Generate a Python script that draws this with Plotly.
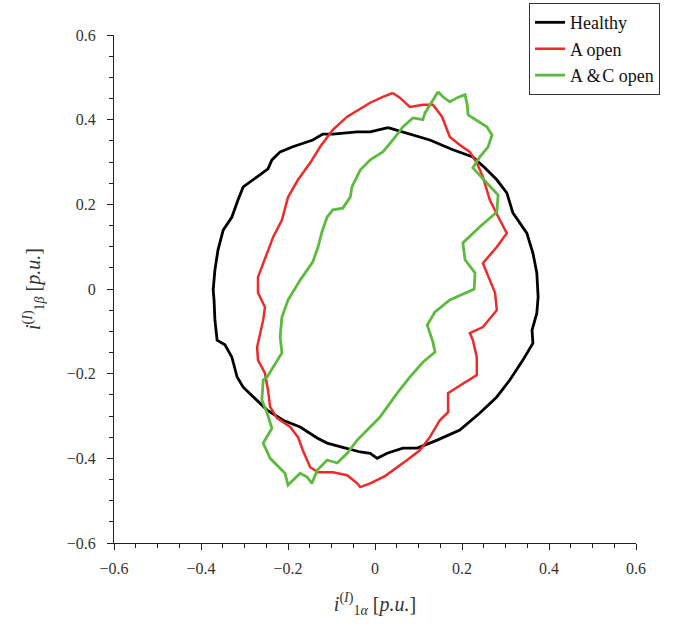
import plotly.graph_objects as go

# Healthy (black) trajectory, one cycle
healthy_x = [0.030, 0.011, -0.011, -0.041, -0.097, -0.120, -0.143, -0.189, -0.218, -0.237, -0.246, -0.271,
             -0.303, -0.315, -0.329, -0.349, -0.361, -0.368, -0.372, -0.370, -0.368, -0.363, -0.345, -0.329,
             -0.317, -0.303, -0.280, -0.248, -0.211, -0.172, -0.133, -0.110, -0.074, -0.034, -0.011, 0.005,
             0.028, 0.064, 0.097, 0.143, 0.195, 0.241, 0.280, 0.310, 0.340, 0.363, 0.361, 0.372, 0.375,
             0.372, 0.363, 0.349, 0.317, 0.303, 0.280, 0.253, 0.225, 0.179, 0.126, 0.064, 0.030]
healthy_y = [0.381, 0.376, 0.371, 0.371, 0.366, 0.366, 0.352, 0.336, 0.324, 0.305, 0.284, 0.265,
             0.241, 0.210, 0.170, 0.139, 0.092, 0.045, -0.002, -0.026, -0.073, -0.121, -0.132, -0.161,
             -0.208, -0.232, -0.255, -0.286, -0.310, -0.326, -0.352, -0.364, -0.374, -0.385, -0.388, -0.400,
             -0.388, -0.376, -0.376, -0.357, -0.333, -0.293, -0.255, -0.215, -0.168, -0.128, -0.097, -0.057, -0.019,
             0.038, 0.085, 0.132, 0.180, 0.227, 0.258, 0.286, 0.312, 0.329, 0.352, 0.371, 0.381]

# A open (red)
a_open_x = [0.041, 0.018, -0.011, -0.028, -0.064, -0.097, -0.126, -0.149, -0.177, -0.200, -0.214, -0.234,
            -0.253, -0.269, -0.269, -0.253, -0.257, -0.271, -0.269, -0.253, -0.246, -0.241, -0.225, -0.195,
            -0.177, -0.166, -0.149, -0.131, -0.097, -0.064, -0.041, -0.034, -0.011, 0.023, 0.074, 0.103,
            0.126, 0.149, 0.168, 0.168, 0.189, 0.234, 0.234, 0.225, 0.218, 0.248, 0.280, 0.276, 0.264,
            0.248, 0.280, 0.303, 0.287, 0.264, 0.248, 0.234, 0.218, 0.195, 0.172, 0.154, 0.133, 0.110,
            0.080, 0.057, 0.041]
a_open_y = [0.463, 0.454, 0.440, 0.430, 0.407, 0.376, 0.336, 0.298, 0.258, 0.217, 0.163, 0.123,
            0.069, 0.028, -0.009, -0.043, -0.073, -0.137, -0.168, -0.199, -0.239, -0.279, -0.305, -0.326,
            -0.350, -0.381, -0.421, -0.433, -0.433, -0.440, -0.459, -0.468, -0.459, -0.442, -0.404, -0.381,
            -0.350, -0.310, -0.291, -0.246, -0.232, -0.203, -0.161, -0.121, -0.104, -0.090, -0.050, -0.009, 0.021,
            0.061, 0.099, 0.132, 0.163, 0.210, 0.265, 0.298, 0.324, 0.340, 0.359, 0.407, 0.435, 0.435,
            0.430, 0.452, 0.463]

# A&C open (green)
ac_open_x = [0.145, 0.126, 0.115, 0.110, 0.087, 0.064, 0.041, 0.018, -0.011, -0.034, -0.053, -0.057,
             -0.074, -0.097, -0.110, -0.122, -0.131, -0.143, -0.172, -0.200, -0.214, -0.218, -0.214, -0.248,
             -0.257, -0.260, -0.248, -0.237, -0.257, -0.241, -0.207, -0.200, -0.189, -0.172, -0.156, -0.145,
             -0.133, -0.110, -0.087, -0.064, -0.041, -0.018, 0.011, 0.051, 0.080, 0.110, 0.138, 0.133,
             0.120, 0.138, 0.172, 0.228, 0.230, 0.207, 0.202, 0.241, 0.280, 0.283, 0.257, 0.225, 0.241,
             0.260, 0.269, 0.257, 0.214, 0.212, 0.207, 0.189, 0.172, 0.156, 0.145]
ac_open_y = [0.466, 0.435, 0.416, 0.400, 0.404, 0.383, 0.352, 0.324, 0.305, 0.281, 0.241, 0.217,
             0.191, 0.187, 0.170, 0.135, 0.099, 0.064, 0.021, -0.026, -0.066, -0.113, -0.151, -0.208,
             -0.215, -0.262, -0.293, -0.329, -0.364, -0.400, -0.435, -0.463, -0.452, -0.435, -0.444, -0.459,
             -0.428, -0.404, -0.411, -0.388, -0.357, -0.333, -0.303, -0.246, -0.208, -0.173, -0.149, -0.125,
             -0.085, -0.054, -0.026, 0.000, 0.038, 0.069, 0.109, 0.147, 0.182, 0.222, 0.251, 0.286, 0.312,
             0.336, 0.364, 0.383, 0.411, 0.435, 0.459, 0.452, 0.442, 0.454, 0.466]

tick_vals = [-0.6, -0.4, -0.2, 0, 0.2, 0.4, 0.6]
tick_text = ["\u22120.6", "\u22120.4", "\u22120.2", "0", "0.2", "0.4", "0.6"]

FONT = "'Liberation Serif', 'Times New Roman', Times, 'DejaVu Serif', serif"

fig = go.Figure()
fig.add_trace(go.Scatter(x=healthy_x, y=healthy_y, mode="lines", name="Healthy",
                         line=dict(color="#000000", width=2.8)))
fig.add_trace(go.Scatter(x=a_open_x, y=a_open_y, mode="lines", name="A open",
                         line=dict(color="#ee2a2a", width=2.5)))
fig.add_trace(go.Scatter(x=ac_open_x, y=ac_open_y, mode="lines", name="A\u2009&\u200aC open",
                         line=dict(color="#5dba3f", width=2.8)))

axis_common = dict(
    range=[-0.6, 0.6], tickvals=tick_vals, ticktext=tick_text,
    showline=True, linecolor="#222222", linewidth=1,
    ticks="outside", ticklen=6, tickcolor="#222222", tickwidth=1,
    minor=dict(dtick=0.05, tick0=0, ticks="outside", ticklen=4, tickcolor="#222222", tickwidth=1),
    showgrid=False, zeroline=False,
    tickfont=dict(family=FONT, size=16, color="#333333"),
    mirror=False,
)

fig.update_xaxes(**axis_common, ticklabelstandoff=5,
                 title=dict(text="<i>i</i><sup>(<i>I</i>)</sup><sub>1<i>\u03b1</i></sub> [<i>p.u.</i>]",
                            font=dict(family=FONT, size=20, color="#333333"), standoff=20))
fig.update_yaxes(**axis_common, ticklabelstandoff=8,
                 title=dict(text="<i>i</i><sup>(<i>I</i>)</sup><sub>1<i>\u03b2</i></sub> [<i>p.u.</i>]",
                            font=dict(family=FONT, size=20, color="#333333"), standoff=20))

fig.update_layout(
    width=680, height=624,
    margin=dict(l=114, r=44, t=35, b=81, autoexpand=False),
    paper_bgcolor="white", plot_bgcolor="white",
    showlegend=True,
    legend=dict(xref="container", yref="container", x=0.778, y=0.995,
                xanchor="left", yanchor="top",
                bordercolor="#333333", borderwidth=1, bgcolor="white",
                font=dict(family=FONT, size=18, color="#111111"),
                itemwidth=30, tracegroupgap=0),
    font=dict(family=FONT),
)

fig.write_html("out.html", config={"displayModeBar": False},
               post_script="document.body.style.margin='0';")
